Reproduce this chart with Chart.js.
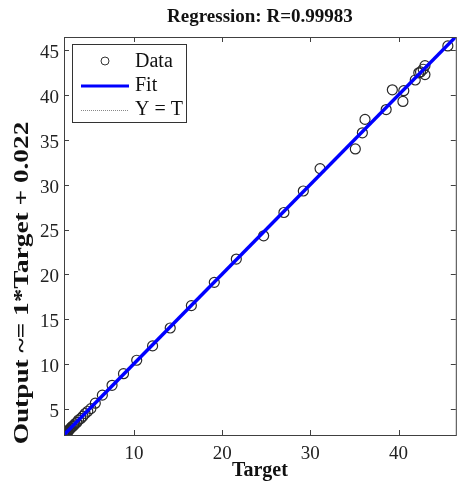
<!DOCTYPE html>
<html lang="en">
<head>
  <meta charset="UTF-8" />
  <title>Regression</title>
  <script src="https://cdn.jsdelivr.net/npm/chart.js"></script>
  <style>
    body {
      margin: 0;
      background: #fff;
      overflow: hidden;
    }
    canvas { display: block; }
  </style>
</head>
<body>

<canvas id="graficoRegresion" width="462" height="482"></canvas>

<script>
  // valores
  const targets = [
    2.02, 2.03, 2.05, 2.06, 2.07, 2.08, 2.09, 2.1, 2.1, 2.11, 2.12, 2.13, 2.14, 2.15, 2.16,
    2.17, 2.18, 2.19, 2.2, 2.2, 2.21, 2.22, 2.24, 2.25, 2.27, 2.28, 2.3, 2.32, 2.33, 2.36,
    2.38, 2.42, 2.45, 2.48, 2.55, 2.62, 2.7, 2.8, 2.9, 3.0, 3.15, 3.3, 3.5, 3.7,
    3.95, 4.2, 4.45, 4.75, 5.1, 5.6, 6.4, 7.5, 8.8, 10.3, 12.1, 14.1, 16.5, 19.1, 21.6,
    24.7, 27.0, 29.2, 31.1, 35.1, 35.9, 36.2, 38.6, 39.3, 40.5, 40.6, 41.9, 42.3, 42.5,
    42.8, 43.0, 43.0, 45.6
  ];
  const outputs = [
    2.04, 2.02, 2.06, 2.1, 2.05, 2.07, 2.12, 2.1, 2.13, 2.08, 2.14, 2.11, 2.17, 2.13, 2.18,
    2.15, 2.2, 2.16, 2.18, 2.23, 2.19, 2.25, 2.21, 2.22, 2.3, 2.26, 2.28, 2.35, 2.36, 2.33,
    2.35, 2.45, 2.42, 2.44, 2.58, 2.6, 2.68, 2.82, 2.88, 3.02, 3.1, 3.3, 3.45, 3.72,
    3.9, 4.15, 4.45, 4.7, 5.0, 5.6, 6.5, 7.6, 8.9, 10.4, 12.0, 14.0, 16.5, 19.1, 21.7,
    24.3, 26.9, 29.3, 31.8, 34.0, 35.8, 37.3, 38.4, 40.6, 39.3, 40.5, 41.7, 42.5, 42.6,
    42.9, 43.3, 42.3, 45.5
  ];
  const fitX = [2.05, 46.5];
  const fitY = [2.072, 46.522];
  const xTicks = [10, 20, 30, 40];
  const yTicks = [5, 10, 15, 20, 25, 30, 35, 40, 45];

  const fuente = '"Liberation Serif", "Times New Roman", serif';
  const ejeColor = '#404040';

  const datos = targets.map((t, i) => ({ x: t, y: outputs[i] }));
  const ajuste = fitX.map((x, i) => ({ x: x, y: fitY[i] }));

  // marco, marcas interiores, titulos y leyenda al estilo MATLAB
  const marcoPlugin = {
    id: 'marco',
    afterDraw(chart) {
      const ctx = chart.ctx;
      const a = chart.chartArea;
      const sx = chart.scales.x;
      const sy = chart.scales.y;
      ctx.save();
      ctx.strokeStyle = ejeColor;
      ctx.lineWidth = 1;
      ctx.strokeRect(a.left + 0.5, a.top + 0.5, a.right - a.left, a.bottom - a.top);
      ctx.beginPath();
      xTicks.forEach(v => {
        const px = Math.round(sx.getPixelForValue(v)) + 0.5;
        ctx.moveTo(px, a.bottom); ctx.lineTo(px, a.bottom - 5);
        ctx.moveTo(px, a.top); ctx.lineTo(px, a.top + 5);
      });
      yTicks.forEach(v => {
        const py = Math.round(sy.getPixelForValue(v)) + 0.5;
        ctx.moveTo(a.left, py); ctx.lineTo(a.left + 5, py);
        ctx.moveTo(a.right, py); ctx.lineTo(a.right - 5, py);
      });
      ctx.stroke();

      // titulo
      ctx.fillStyle = '#111';
      ctx.font = 'bold 19px ' + fuente;
      ctx.textAlign = 'center';
      ctx.textBaseline = 'middle';
      ctx.fillText('Regression: R=0.99983', (a.left + a.right) / 2, 17);

      // etiqueta del eje y (texto estirado como en la imagen)
      ctx.save();
      ctx.translate(23, 283);
      ctx.rotate(-Math.PI / 2);
      ctx.scale(1.3, 1);
      ctx.font = 'bold 21px ' + fuente;
      ctx.fillText('Output ~= 1*Target + 0.022', 0, 0);
      ctx.restore();

      // leyenda
      ctx.fillStyle = '#fff';
      ctx.fillRect(72.5, 44.5, 114, 78);
      ctx.strokeStyle = '#333';
      ctx.strokeRect(72.5, 44.5, 114, 78);

      ctx.beginPath();
      ctx.arc(105, 61, 4, 0, Math.PI * 2);
      ctx.strokeStyle = '#333';
      ctx.stroke();

      ctx.beginPath();
      ctx.strokeStyle = '#0000ff';
      ctx.lineWidth = 3;
      ctx.moveTo(81, 86); ctx.lineTo(129, 86);
      ctx.stroke();

      ctx.beginPath();
      ctx.strokeStyle = '#888';
      ctx.lineWidth = 1;
      ctx.setLineDash([1, 1]);
      ctx.moveTo(81, 110.5); ctx.lineTo(129, 110.5);
      ctx.stroke();
      ctx.setLineDash([]);

      ctx.fillStyle = '#111';
      ctx.font = '20px ' + fuente;
      ctx.textAlign = 'left';
      ctx.fillText('Data', 135, 62);
      ctx.fillText('Fit', 135, 86);
      ctx.fillText('Y = T', 135, 110);
      ctx.restore();
    }
  };

  new Chart(document.getElementById('graficoRegresion').getContext('2d'), {
    type: 'scatter',
    data: {
      datasets: [
        {
          label: 'Data',
          data: datos,
          pointStyle: 'circle',
          pointRadius: 5,
          pointBorderWidth: 1.2,
          pointBorderColor: '#2a2a2a',
          pointBackgroundColor: 'rgba(0,0,0,0)',
          showLine: false,
          order: 2
        },
        {
          label: 'Y = T',
          data: [{ x: 2.05, y: 2.05 }, { x: 46.5, y: 46.5 }],
          showLine: true,
          borderColor: '#888',
          borderWidth: 1,
          borderDash: [1, 1],
          pointRadius: 0,
          order: 3
        },
        {
          label: 'Fit',
          data: ajuste,
          showLine: true,
          borderColor: '#0000ff',
          borderWidth: 3.5,
          pointRadius: 0,
          order: 1
        }
      ]
    },
    options: {
      responsive: false,
      animation: false,
      layout: { padding: { top: 37, right: 1, left: 0, bottom: 0 } },
      plugins: {
        legend: { display: false },
        title: { display: false },
        tooltip: { enabled: false }
      },
      scales: {
        x: {
          type: 'linear',
          min: 2.05,
          max: 46.5,
          afterBuildTicks: s => { s.ticks = xTicks.map(v => ({ value: v })); },
          afterFit: s => { s.height = 47; },
          grid: { display: false, drawTicks: false },
          border: { display: false },
          ticks: {
            padding: 8,
            color: '#222',
            font: { family: fuente, size: 19 }
          },
          title: {
            display: true,
            text: 'Target',
            color: '#111',
            font: { family: fuente, size: 20, weight: 'bold' },
            padding: { top: 0, bottom: -1 }
          }
        },
        y: {
          type: 'linear',
          min: 2.05,
          max: 46.5,
          afterBuildTicks: s => { s.ticks = yTicks.map(v => ({ value: v })); },
          afterFit: s => { s.width = 64; },
          grid: { display: false, drawTicks: false },
          border: { display: false },
          ticks: {
            padding: 5,
            labelOffset: 3,
            color: '#222',
            font: { family: fuente, size: 19 }
          },
          title: { display: false }
        }
      }
    },
    plugins: [marcoPlugin]
  });
</script>

</body>
</html>
